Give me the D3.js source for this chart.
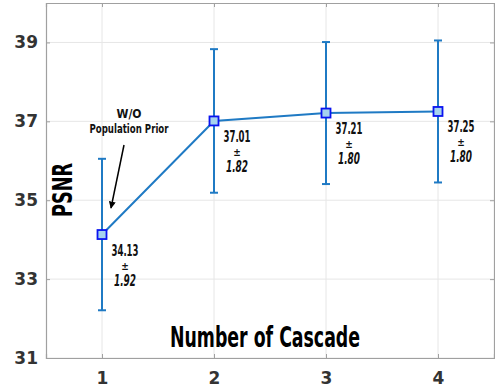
<!DOCTYPE html>
<html>
<head>
<meta charset="utf-8">
<script src="https://cdn.jsdelivr.net/npm/d3@7"></script>
<style>
  body { margin: 0; background: #fff; }
  .cond { font-family: "Liberation Sans Narrow", "DejaVu Sans Condensed", sans-serif; font-weight: bold; }
</style>
</head>
<body>
<script>
// data
var cascades = [1, 2, 3, 4];
var psnr = [34.13, 37.01, 37.21, 37.25];
var stdev = [1.92, 1.82, 1.80, 1.80];
var xTicks = [1, 2, 3, 4];
var yTicks = [31, 33, 35, 37, 39];

var width = 495, height = 387;
var margin = {top: 3, right: 1, bottom: 29, left: 46};
var w = width - margin.left - margin.right,
    h = height - margin.top - margin.bottom;

var x = d3.scaleLinear().domain([0.5, 4.5]).range([0, w]);
var y = d3.scaleLinear().domain([31, 40]).range([h, 0]);

var svg = d3.select("body").append("svg")
    .attr("width", width)
    .attr("height", height)
  .append("g")
    .attr("transform", "translate(" + margin.left + "," + margin.top + ")");

// grid
svg.selectAll(".vgrid").data(xTicks).enter().append("line")
    .attr("x1", function(d) { return x(d); }).attr("x2", function(d) { return x(d); })
    .attr("y1", 0).attr("y2", h)
    .attr("stroke", "#e6e6e6").attr("stroke-width", 1);
svg.selectAll(".hgrid").data(yTicks).enter().append("line")
    .attr("y1", function(d) { return y(d); }).attr("y2", function(d) { return y(d); })
    .attr("x1", 0).attr("x2", w)
    .attr("stroke", "#e6e6e6").attr("stroke-width", 1);

// axes (matlab style: ticks inside, box)
var xAxis = svg.append("g")
    .attr("transform", "translate(0," + h + ")")
    .call(d3.axisBottom(x).tickValues(xTicks).tickSize(-4).tickPadding(14).tickFormat(d3.format("d")));
var xTop = svg.append("g")
    .call(d3.axisTop(x).tickValues(xTicks).tickSize(-4).tickFormat(""));
var yAxis = svg.append("g")
    .call(d3.axisLeft(y).tickValues(yTicks).tickSize(-4).tickPadding(8).tickFormat(d3.format("d")));
var yRight = svg.append("g")
    .attr("transform", "translate(" + w + ",0)")
    .call(d3.axisRight(y).tickValues(yTicks).tickSize(-4).tickFormat(""));

[xAxis, xTop, yAxis, yRight].forEach(function(g) {
  g.select(".domain").attr("stroke", "#a0a0a0").attr("stroke-width", 1.2);
  g.selectAll(".tick line").attr("stroke", "#a0a0a0");
  g.selectAll("text")
      .attr("fill", "#333")
      .style("font-family", "DejaVu Sans")
      .style("font-weight", "bold")
      .style("font-size", "17px");
});

// error bars
var cap = 4;
var bars = svg.selectAll(".err").data(cascades).enter().append("g");
bars.append("line")
    .attr("x1", function(d) { return x(d); }).attr("x2", function(d) { return x(d); })
    .attr("y1", function(d, i) { return y(psnr[i] + stdev[i]); })
    .attr("y2", function(d, i) { return y(psnr[i] - stdev[i]); })
    .attr("stroke", "#1f7ac4").attr("stroke-width", 2);
bars.append("line")
    .attr("x1", function(d) { return x(d) - cap; }).attr("x2", function(d) { return x(d) + cap; })
    .attr("y1", function(d, i) { return y(psnr[i] + stdev[i]); })
    .attr("y2", function(d, i) { return y(psnr[i] + stdev[i]); })
    .attr("stroke", "#1f7ac4").attr("stroke-width", 2);
bars.append("line")
    .attr("x1", function(d) { return x(d) - cap; }).attr("x2", function(d) { return x(d) + cap; })
    .attr("y1", function(d, i) { return y(psnr[i] - stdev[i]); })
    .attr("y2", function(d, i) { return y(psnr[i] - stdev[i]); })
    .attr("stroke", "#1f7ac4").attr("stroke-width", 2);

// mean line
var line = d3.line()
    .x(function(d, i) { return x(cascades[i]); })
    .y(function(d) { return y(d); });
svg.append("path")
    .datum(psnr)
    .attr("d", line)
    .attr("fill", "none")
    .attr("stroke", "#1f7ac4")
    .attr("stroke-width", 2);

// markers
svg.selectAll(".mk").data(psnr).enter().append("rect")
    .attr("x", function(d, i) { return x(cascades[i]) - 4.5; })
    .attr("y", function(d) { return y(d) - 4.5; })
    .attr("width", 9).attr("height", 9)
    .attr("fill", "#a6d3ee")
    .attr("stroke", "#0a14f0")
    .attr("stroke-width", 1.8);

// value labels
var lab = svg.selectAll(".lab").data(psnr).enter().append("g")
    .attr("class", "cond")
    .attr("transform", function(d, i) {
      return "translate(" + (x(cascades[i]) + 23) + "," + (y(d) + 21) + ")";
    })
    .attr("text-anchor", "middle")
    .attr("fill", "#111");
lab.append("text").attr("y", 0).style("font-size", "15px")
    .attr("textLength", 27).attr("lengthAdjust", "spacingAndGlyphs")
    .text(function(d) { return d.toFixed(2); });
lab.append("text").attr("y", 14).style("font-size", "10px").text("±");
lab.append("text").attr("y", 30).style("font-size", "15px").style("font-style", "italic")
    .attr("textLength", 22).attr("lengthAdjust", "spacingAndGlyphs")
    .text(function(d, i) { return stdev[i].toFixed(2); });

// annotation
svg.append("text").attr("class", "cond")
    .attr("x", x(1) + 27).attr("y", 115)
    .attr("text-anchor", "middle").style("font-size", "12px").attr("fill", "#111")
    .text("W/O");
svg.append("text").attr("class", "cond")
    .attr("x", x(1) + 27).attr("y", 130)
    .attr("text-anchor", "middle").style("font-size", "13px").attr("fill", "#111")
    .attr("textLength", 79).attr("lengthAdjust", "spacingAndGlyphs")
    .text("Population Prior");

svg.append("defs").append("marker")
    .attr("id", "arr").attr("viewBox", "0 0 10 10")
    .attr("refX", 9).attr("refY", 5)
    .attr("markerWidth", 7).attr("markerHeight", 7)
    .attr("markerUnits", "userSpaceOnUse")
    .attr("orient", "auto")
  .append("path").attr("d", "M0,0 L10,5 L0,10 z").attr("fill", "#000");
svg.append("line")
    .attr("x1", 124 - margin.left).attr("y1", 145 - margin.top)
    .attr("x2", 111 - margin.left).attr("y2", 208 - margin.top)
    .attr("stroke", "#000").attr("stroke-width", 1.5)
    .attr("marker-end", "url(#arr)");

// axis titles
svg.append("text").attr("class", "cond")
    .attr("transform", "translate(" + (72 - margin.left) + "," + (190 - margin.top) + ") rotate(-90)")
    .attr("text-anchor", "middle")
    .style("font-size", "26px").attr("fill", "#000")
    .attr("textLength", 54).attr("lengthAdjust", "spacingAndGlyphs")
    .text("PSNR");
svg.append("text").attr("class", "cond")
    .attr("x", 265 - margin.left).attr("y", 347 - margin.top)
    .attr("text-anchor", "middle")
    .style("font-size", "28px").attr("fill", "#000")
    .attr("textLength", 190).attr("lengthAdjust", "spacingAndGlyphs")
    .text("Number of Cascade");
</script>
</body>
</html>
